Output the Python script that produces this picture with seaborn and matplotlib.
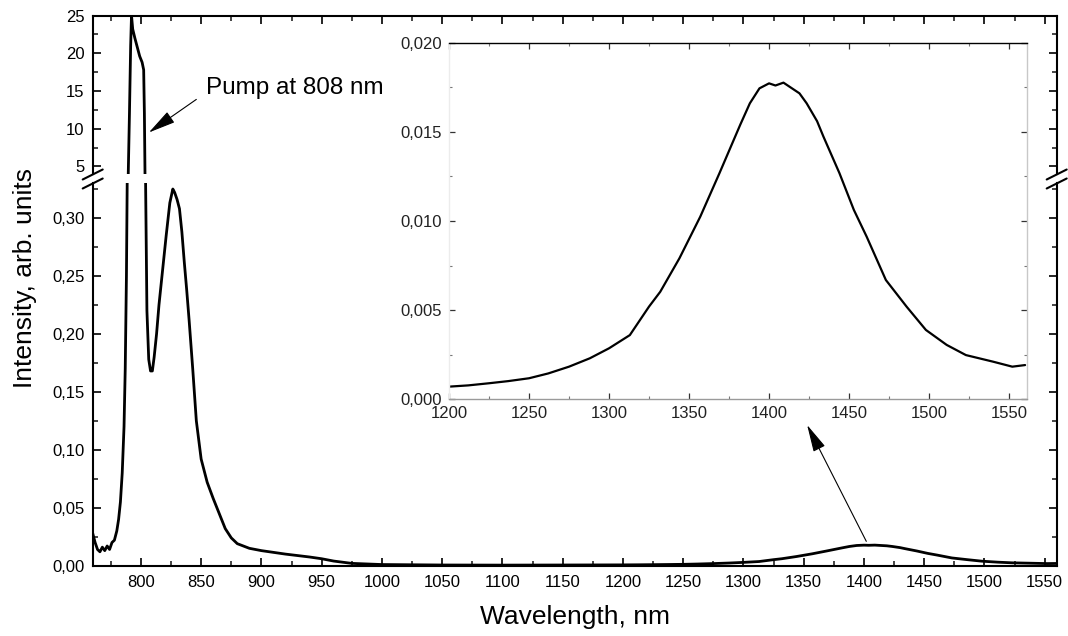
import matplotlib
matplotlib.use("Agg")
import matplotlib.pyplot as plt
import numpy as np
import pandas as pd
import seaborn as sns
from matplotlib.ticker import MultipleLocator, FuncFormatter
from matplotlib.lines import Line2D

# ---------------- data ----------------
wavelength_main = [760, 762, 764, 766, 768, 770, 772, 774, 776, 778,
                   780, 781.5, 783, 784.5, 786, 787, 788, 788.7, 789.5, 790.5,
                   791.5, 792.2, 793.2, 795, 797, 799, 801, 802.3, 802.9, 803.4,
                   803.9, 805, 806.5, 808, 809.5, 811, 813, 815, 818, 821,
                   824, 826.5, 828, 830, 832, 834, 836, 838, 840, 843,
                   846, 850, 855, 860, 865, 870, 875, 880, 890, 900,
                   920, 940, 950, 960, 975, 1000, 1050, 1100, 1150]
intensity_main = [0.028, 0.020, 0.014, 0.012, 0.016, 0.013, 0.017, 0.014, 0.020, 0.022,
                  0.030, 0.040, 0.055, 0.080, 0.12, 0.17, 0.25, 0.34, 4.0, 12.0,
                  21.0, 25.0, 23.2, 22.0, 20.8, 19.6, 18.8, 17.8, 12.0, 4.0,
                  0.33, 0.22, 0.178, 0.168, 0.168, 0.180, 0.200, 0.225, 0.255, 0.285,
                  0.313, 0.325, 0.322, 0.316, 0.308, 0.288, 0.262, 0.238, 0.212, 0.170,
                  0.125, 0.092, 0.072, 0.058, 0.045, 0.032, 0.024, 0.019, 0.015, 0.013,
                  0.010, 0.0075, 0.006, 0.004, 0.002, 0.001, 0.0006, 0.0005, 0.0006]

wavelength_inset = [1200, 1212, 1225, 1237, 1250, 1262, 1275, 1288, 1300, 1313,
                    1325, 1332, 1344, 1357, 1369, 1382, 1388, 1394, 1400, 1404,
                    1409, 1419, 1423.5, 1430, 1434, 1444, 1453, 1461, 1473, 1486,
                    1498, 1511, 1523, 1540, 1552, 1560]
intensity_inset = [0.00071, 0.00078, 0.0009, 0.00102, 0.00118, 0.00145, 0.00183, 0.0023, 0.00286, 0.0036,
                   0.0052, 0.00603, 0.00791, 0.01024, 0.01268, 0.01540, 0.0166, 0.01744, 0.01772, 0.01760,
                   0.01776, 0.01716, 0.0166, 0.01560, 0.01473, 0.01268, 0.01062, 0.00912, 0.00669, 0.00519,
                   0.00389, 0.00305, 0.00248, 0.00211, 0.00183, 0.00192]

main_xticks = [800, 850, 900, 950, 1000, 1050, 1100, 1150, 1200, 1250, 1300, 1350, 1400, 1450, 1500, 1550]
upper_yticks = [5, 10, 15, 20, 25]
lower_yticks = [0.00, 0.05, 0.10, 0.15, 0.20, 0.25, 0.30]
inset_xticks = [1200, 1250, 1300, 1350, 1400, 1450, 1500, 1550]
inset_yticks = [0.000, 0.005, 0.010, 0.015, 0.020]

spectrum = pd.DataFrame({
    "wavelength": wavelength_main + wavelength_inset,
    "intensity": intensity_main + intensity_inset,
})
inset_df = pd.DataFrame({"wavelength": wavelength_inset, "intensity": intensity_inset})

# ---------------- style ----------------
sns.set_theme(style="ticks")
plt.rcParams["font.family"] = ["Liberation Sans", "DejaVu Sans"]
plt.rcParams["axes.edgecolor"] = "black"

W, H = 1068, 636
fig = plt.figure(figsize=(W / 100, H / 100), dpi=100)
fig.patch.set_facecolor("white")


def rect(l, t, r, b):
    return [l / W, 1 - b / H, (r - l) / W, (b - t) / H]


ax_up = fig.add_axes(rect(92.7, 15.5, 1056.7, 174))
ax_lo = fig.add_axes(rect(92.7, 183.2, 1056.7, 565.7))

for ax in (ax_up, ax_lo):
    sns.lineplot(data=spectrum, x="wavelength", y="intensity", ax=ax,
                 color="black", lw=2, estimator=None, sort=False)
    ax.set_xlim(760, 1560)
    ax.set_xlabel("")
    ax.set_ylabel("")
    for s in ax.spines.values():
        s.set_linewidth(1.5)
    ax.xaxis.set_major_locator(plt.FixedLocator(main_xticks))
    ax.xaxis.set_minor_locator(MultipleLocator(25))
    ax.tick_params(which="major", direction="in", length=6, width=1.2,
                   labelsize=12, colors="black")
    ax.tick_params(which="minor", direction="in", length=3.5, width=1.2)
    ax.tick_params(axis="y", which="both", left=True, right=True, pad=6)

ax_up.set_ylim(4.0, 25)
ax_up.spines["bottom"].set_visible(False)
ax_up.yaxis.set_major_locator(plt.FixedLocator(upper_yticks))
ax_up.yaxis.set_minor_locator(MultipleLocator(2.5))
ax_up.tick_params(axis="x", which="both", bottom=False, top=True,
                  labelbottom=False, labeltop=False)
ax_up.yaxis.set_major_formatter(FuncFormatter(lambda v, p: f"{v:.0f}"))

ax_lo.set_ylim(0, 0.33)
ax_lo.spines["top"].set_visible(False)
ax_lo.yaxis.set_major_locator(plt.FixedLocator(lower_yticks))
ax_lo.yaxis.set_minor_locator(MultipleLocator(0.025))
ax_lo.tick_params(axis="x", which="both", bottom=True, top=False, pad=7)
ax_lo.yaxis.set_major_formatter(FuncFormatter(lambda v, p: f"{v:.2f}".replace(".", ",")))
ax_lo.xaxis.set_major_formatter(FuncFormatter(lambda v, p: f"{v:.0f}"))

# axis break marks
for xs in (92.7, 1056.7):
    for yc in (174.5, 183.5):
        fig.add_artist(Line2D([(xs - 10) / W, (xs + 10) / W],
                              [1 - (yc + 5) / H, 1 - (yc - 5) / H],
                              color="black", lw=1.5, transform=fig.transFigure))

# annotations
ax_up.annotate("Pump at 808 nm", xy=(806.6, 9.5), xytext=(854.4, 15.4),
               ha="left", va="center", fontsize=17.5, color="black",
               arrowprops=dict(arrowstyle="-|>,head_length=0.85,head_width=0.2",
                               mutation_scale=20, lw=0.8, color="black",
                               relpos=(0.0, 0.3), shrinkA=6, shrinkB=0),
               annotation_clip=False)

ax_lo.annotate("", xy=(1352.9, 0.1214), xytext=(1402, 0.021),
               arrowprops=dict(arrowstyle="-|>,head_length=0.85,head_width=0.2",
                               mutation_scale=20, lw=0.8, color="black",
                               shrinkA=0, shrinkB=0),
               annotation_clip=False)

# axis labels
fig.text(575 / W, 1 - 617 / H, "Wavelength, nm", ha="center", va="center",
         fontsize=19, color="black")
fig.text(25 / W, 1 - 278 / H, "Intensity, arb. units", ha="center", va="center",
         rotation=90, fontsize=19, color="black")

# ---------------- inset ----------------
ax_in = fig.add_axes(rect(449, 42.7, 1026.7, 399.3))
ax_in.set_facecolor("white")
sns.lineplot(data=inset_df, x="wavelength", y="intensity", ax=ax_in,
             color="black", lw=1.6, estimator=None, sort=False)
ax_in.set_xlim(1200, 1561)
ax_in.set_ylim(0, 0.020)
ax_in.set_xlabel("")
ax_in.set_ylabel("")
ax_in.spines["top"].set_color("black")
ax_in.spines["top"].set_linewidth(1.0)
ax_in.spines["bottom"].set_color("#9a9a9a")
ax_in.spines["bottom"].set_linewidth(1.0)
ax_in.spines["right"].set_color("#c8c8c8")
ax_in.spines["right"].set_linewidth(1.0)
ax_in.spines["left"].set_color("#ececec")
ax_in.spines["left"].set_linewidth(1.0)
ax_in.xaxis.set_major_locator(plt.FixedLocator(inset_xticks))
ax_in.xaxis.set_minor_locator(MultipleLocator(25))
ax_in.yaxis.set_major_locator(plt.FixedLocator(inset_yticks))
ax_in.yaxis.set_minor_locator(MultipleLocator(0.0025))
ax_in.tick_params(which="major", direction="in", length=4.5, width=0.9,
                  color="#333333", labelcolor="#222222", labelsize=12)
ax_in.tick_params(which="minor", direction="in", length=2.5, width=0.8, color="#777777")
ax_in.tick_params(axis="x", which="both", top=True, bottom=True, pad=5)
ax_in.tick_params(axis="y", which="both", left=True, right=True, pad=5)
ax_in.yaxis.set_major_formatter(FuncFormatter(lambda v, p: f"{v:.3f}".replace(".", ",")))
ax_in.xaxis.set_major_formatter(FuncFormatter(lambda v, p: f"{v:.0f}"))

fig.savefig("out.png", dpi=100, facecolor="white")
